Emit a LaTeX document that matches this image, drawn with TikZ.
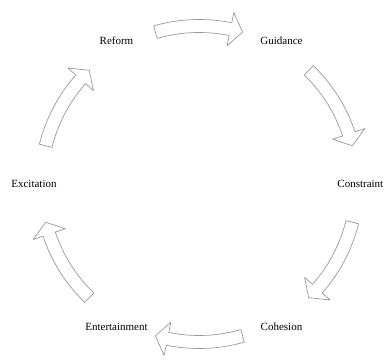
\documentclass[tikz,border=0pt]{standalone}
\usepackage{fontspec}
\setmainfont{Liberation Serif}
\usetikzlibrary{calc}
\tikzset{cyclearrow/.style={draw=black!40,line width=0.7pt,line join=round}}

\begin{document}
\begin{tikzpicture}[x=1pt,y=1pt,font=\fontsize{11}{13}\selectfont]
\useasboundingbox (-199,-177) rectangle (185,184);
\foreach \name/\txt/\theta in
    {G/Guidance/60,H/Cohesion/-60,E/Entertainment/-120,X/Excitation/180,R/Reform/120}
  \node (\name) at (\theta:165) {\txt};
\node[anchor=east,inner sep=0.5pt] (C) at (185,0) {Constraint};

\foreach \c in {90,30,-30,-90,-150,150}
  \draw[cyclearrow] (\c+16:151.5) arc[start angle=\c+16,end angle=\c-11.5,radius=151.5]
    -- (\c-11.5:141) -- (\c-16:158) -- (\c-11.5:175) -- (\c-11.5:164.5)
    arc[start angle=\c-11.5,end angle=\c+16,radius=164.5] -- cycle;
\end{tikzpicture}
\end{document}
